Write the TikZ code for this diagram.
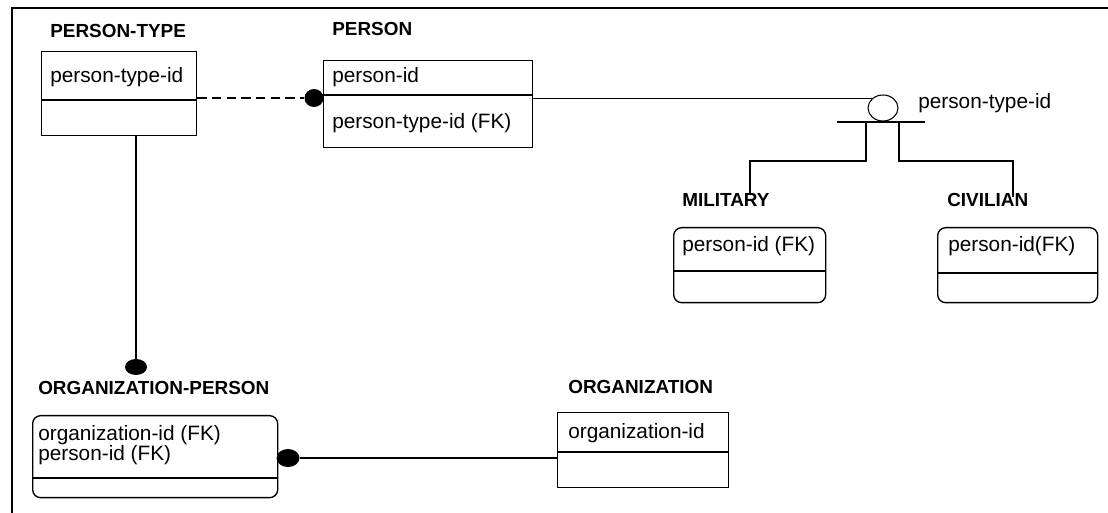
\documentclass[tikz,border=0pt]{standalone}
\usepackage{fontspec}
\setmainfont{Liberation Sans}
\usetikzlibrary{shapes.geometric}
\begin{document}
\begin{tikzpicture}[
  x=0.75pt, y=-0.75pt,
  ent/.style={draw, line width=1pt, inner sep=0pt, anchor=north west},
  entr/.style={ent, rounded corners=6pt},
  size/.style 2 args={minimum width=#1*0.75pt, minimum height=#2*0.75pt},
  ttl/.style={font=\fontsize{14.2}{16}\selectfont\bfseries, anchor=west, inner sep=0pt},
  attr/.style={font=\fontsize{15.6}{15}\selectfont, anchor=west, inner sep=0pt, align=left},
  dot/.style={ellipse, fill, inner sep=0pt},
  conn/.style={line width=0.8pt}
]
\useasboundingbox (0,0) rectangle (1108,513);

% ---- frame (cut at the page edge) ----
\draw[line width=2pt] (1108,8) -- (12,8) -- (12,513);

% ---- PERSON-TYPE ----
\node[ttl] (pttl) at (50,31) {PERSON-TYPE};
\node[ent, size={155}{84}] (pt) at (41,51) {};
\draw[line width=1pt] (pt.west |- 0,100) -- (pt.east |- 0,100);
\node[attr] (ptid) at (50,77) {person-type-id};

% ---- PERSON ----
\node[ttl] (pttl2) at (332,29) {PERSON};
\node[ent, size={209}{87}] (person) at (323,60) {};
\draw[line width=1pt] (person.west |- 0,95) -- (person.east |- 0,95);
\node[attr] (pid) at (332,77) {person-id};
\node[attr] (pfk) at (332,123) {person-type-id (FK)};

% ---- subtype discriminator ----
\node[ellipse, draw, conn, minimum width=30*0.75pt, minimum height=26*0.75pt,
  inner sep=0pt] (sub) at (883,108) {};
\node[attr] (disc) at (918,103) {person-type-id};
\coordinate (barl) at (837,122);
\coordinate (barr) at (925,122);
\draw[conn] (barl) -- (barr);

% ---- MILITARY ----
\node[ttl] (milttl) at (682,200) {MILITARY};
\node[entr, size={152}{75}] (mil) at (673,227) {};
\draw[line width=1pt] (mil.west |- 0,271) -- (mil.east |- 0,271);
\node[attr] (milid) at (682,246) {person-id (FK)};

% ---- CIVILIAN ----
\node[ttl] (civttl) at (947,200) {CIVILIAN};
\node[entr, size={160}{75}] (civ) at (937,227) {};
\draw[line width=1pt] (civ.west |- 0,273) -- (civ.east |- 0,273);
\node[attr] (civid) at (948,246) {person-id(FK)};

% ---- ORGANIZATION-PERSON ----
\node[ttl] (opttl) at (38,388) {ORGANIZATION-PERSON};
\node[entr, size={245}{82}] (op) at (32,415) {};
\draw[line width=1pt] (op.west |- 0,478) -- (op.east |- 0,478);
\node[attr] (opid) at (38,445) {organization-id (FK)\\person-id (FK)};

% ---- ORGANIZATION ----
\node[ttl] (orgttl) at (568,387) {ORGANIZATION};
\node[ent, size={171}{75}] (org) at (557,412) {};
\draw[line width=1pt] (org.west |- 0,452) -- (org.east |- 0,452);
\node[attr] (orgid) at (568,433) {organization-id};

% ---- relationship dots ----
\node[dot, minimum width=19*0.75pt, minimum height=18*0.75pt] (d1) at (314,98) {};
\node[dot, minimum width=22*0.75pt, minimum height=16*0.75pt] (d3) at (136,367) {};
\node[dot, minimum width=23*0.75pt, minimum height=18*0.75pt] (d4) at (288,458) {};

% ---- connectors ----
\draw[conn, dash pattern=on 7pt off 4pt] (pt.east |- d1) -- (d1);
\draw[conn] (person.east |- sub.north west) -- (sub.north west);
\draw[conn] (d3 |- pt.south) -- (d3);
\draw[conn] (d4) -- (org.west |- d4);

% subtype branches
\coordinate (mtop) at (750,193);
\coordinate (ctop) at (1013,197);
\draw[conn] (barl -| 866,0) -- (866,161) -| (mtop);
\draw[conn] (barl -| 899,0) -- (899,161) -| (ctop);

\end{tikzpicture}
\end{document}
